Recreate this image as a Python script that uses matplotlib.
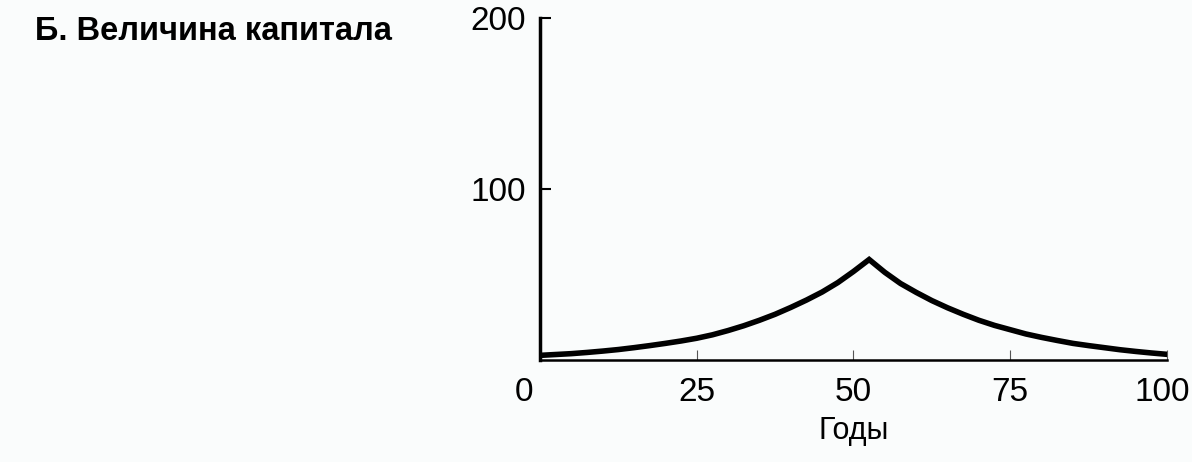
import numpy as np
import matplotlib
matplotlib.use('Agg')
import matplotlib.pyplot as plt
from matplotlib.transforms import ScaledTranslation

plt.rcParams['font.family'] = ['Liberation Sans', 'DejaVu Sans']

# capital over time
years = [0, 2.5, 5, 7.5, 10, 12.5, 15, 17.5, 20, 22.5, 25, 27.5, 30, 32.5,
         35, 37.5, 40, 42.5, 45, 47.5, 50, 52.5,
         55, 57.5, 60, 62.5, 65, 67.5, 70, 72.5, 75, 77.5, 80, 82.5,
         85, 87.5, 90, 92.5, 95, 97.5, 100]
capital = [3, 3.5, 4, 4.7, 5.5, 6.4, 7.5, 8.7, 10, 11.4, 13, 15, 17.5, 20.3,
           23.5, 27, 31, 35.3, 40, 45.5, 52, 59,
           51.5, 45, 39.8, 35, 30.8, 27, 23.5, 20.5, 18, 15.5, 13.5, 11.7,
           10, 8.7, 7.5, 6.3, 5.3, 4.4, 3.6]

xticks = [0, 25, 50, 75, 100]
yticks = [100, 200]
title = 'Б. Величина капитала'
xlabel = 'Годы'

fig = plt.figure(figsize=(11.92, 4.62), dpi=100)
fig.patch.set_facecolor('#fafcfc')
ax = fig.add_axes([0.453, 0.2197, 0.526, 0.741])
ax.set_facecolor('#fafcfc')

ax.plot(years, capital, color='black', lw=4, solid_joinstyle='miter')

ax.set_xlim(0, 100)
ax.set_ylim(0, 200)
ax.set_xticks(xticks)
ax.set_yticks(yticks)
ax.spines['top'].set_visible(False)
ax.spines['right'].set_visible(False)
ax.spines['left'].set_linewidth(2.5)
ax.spines['bottom'].set_linewidth(1.8)
ax.tick_params(axis='x', direction='in', length=7, width=0.8, pad=12, labelsize=24,
               color='#555555')
ax.tick_params(axis='y', direction='in', length=8, width=1.5, pad=10, labelsize=24)
ax.set_xlabel(xlabel, fontsize=22, labelpad=6)

# the "0" sits a bit left of the corner in the original, "100" hugs the edge
xlbls = ax.get_xticklabels()
xlbls[0].set_transform(xlbls[0].get_transform() + ScaledTranslation(-16 / 100, 0, fig.dpi_scale_trans))
xlbls[-1].set_transform(xlbls[-1].get_transform() + ScaledTranslation(-5 / 100, 0, fig.dpi_scale_trans))

fig.text(35 / 1192, 1 - 40 / 462, title, fontsize=23.5, fontweight='bold', va='baseline', ha='left')

fig.savefig('out.png', dpi=100, facecolor=fig.get_facecolor())
